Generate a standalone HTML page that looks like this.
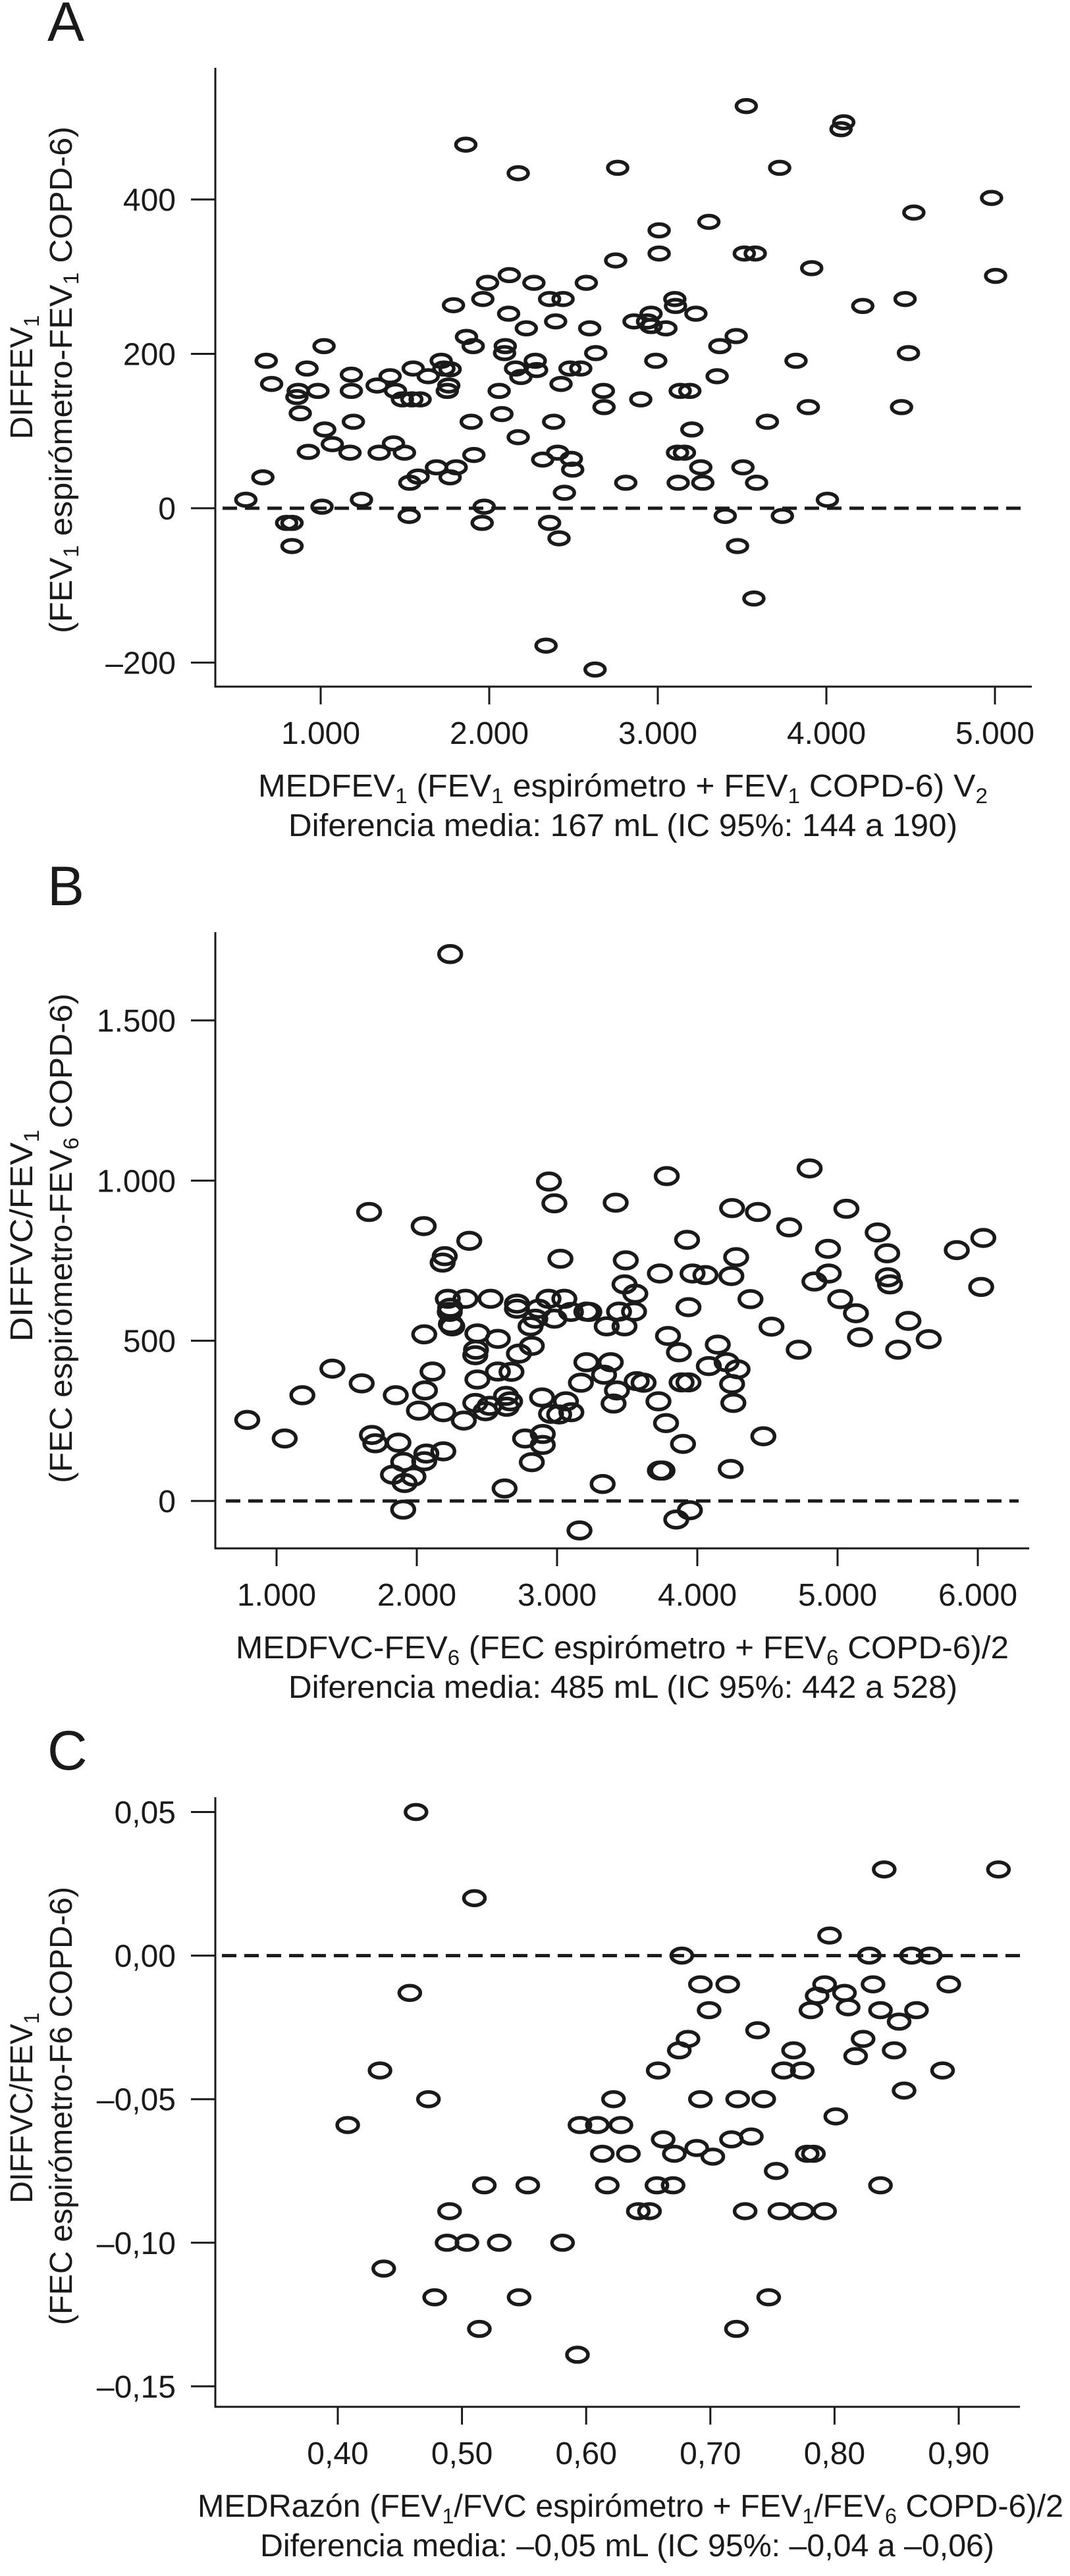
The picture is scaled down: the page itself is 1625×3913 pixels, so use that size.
<!DOCTYPE html>
<html><head><meta charset="utf-8"><style>
html,body{margin:0;padding:0;background:#fff}
svg{display:block}
text{font-family:"Liberation Sans",Arial,sans-serif;fill:#1a1a1a}
</style></head><body>
<svg id="fig" width="1625" height="3913" viewBox="0 0 1625 3913" xmlns="http://www.w3.org/2000/svg">
<g id="panelA">
<text x="72" y="62" font-size="84">A</text>
<text x="392" y="1210" font-size="48" textLength="1108" lengthAdjust="spacingAndGlyphs">MEDFEV<tspan font-size="32" dy="10">1</tspan><tspan dy="-10"> (FEV</tspan><tspan font-size="32" dy="10">1</tspan><tspan dy="-10"> espirómetro + FEV</tspan><tspan font-size="32" dy="10">1</tspan><tspan dy="-10"> COPD-6) V</tspan><tspan font-size="32" dy="10">2</tspan></text>
<text x="438" y="1270" font-size="48" textLength="1016" lengthAdjust="spacingAndGlyphs">Diferencia media: 167 mL (IC 95%: 144 a 190)</text>
<text transform="translate(49,573) rotate(-90)" text-anchor="middle" font-size="48">DIFFEV<tspan font-size="32" dy="10">1</tspan></text>
<text transform="translate(109,577) rotate(-90)" text-anchor="middle" font-size="48" textLength="770" lengthAdjust="spacingAndGlyphs">(FEV<tspan font-size="32" dy="10">1</tspan><tspan dy="-10"> espirómetro-FEV</tspan><tspan font-size="32" dy="10">1</tspan><tspan dy="-10"> COPD-6)</tspan></text>
</g>
<g id="panelB">
<text x="72" y="1375" font-size="84">B</text>
<text x="358" y="2519" font-size="48" textLength="1174" lengthAdjust="spacingAndGlyphs">MEDFVC-FEV<tspan font-size="32" dy="10">6</tspan><tspan dy="-10"> (FEC espirómetro + FEV</tspan><tspan font-size="32" dy="10">6</tspan><tspan dy="-10"> COPD-6)/2</tspan></text>
<text x="438" y="2579" font-size="48" textLength="1016" lengthAdjust="spacingAndGlyphs">Diferencia media: 485 mL (IC 95%: 442 a 528)</text>
<text transform="translate(49,1877) rotate(-90)" text-anchor="middle" font-size="48" textLength="322" lengthAdjust="spacingAndGlyphs">DIFFVC/FEV<tspan font-size="32" dy="10">1</tspan></text>
<text transform="translate(109,1881) rotate(-90)" text-anchor="middle" font-size="48" textLength="744" lengthAdjust="spacingAndGlyphs">(FEC espirómetro-FEV<tspan font-size="32" dy="10">6</tspan><tspan dy="-10"> COPD-6)</tspan></text>
</g>
<g id="panelC">
<text x="72" y="2688" font-size="84">C</text>
<text x="300" y="3823" font-size="48" textLength="1315" lengthAdjust="spacingAndGlyphs">MEDRazón (FEV<tspan font-size="32" dy="10">1</tspan><tspan dy="-10">/FVC espirómetro + FEV</tspan><tspan font-size="32" dy="10">1</tspan><tspan dy="-10">/FEV</tspan><tspan font-size="32" dy="10">6</tspan><tspan dy="-10"> COPD-6)/2</tspan></text>
<text x="395" y="3883" font-size="48" textLength="1115" lengthAdjust="spacingAndGlyphs">Diferencia media: –0,05 mL (IC 95%: –0,04 a –0,06)</text>
<text transform="translate(49,3202) rotate(-90)" text-anchor="middle" font-size="48" textLength="290" lengthAdjust="spacingAndGlyphs">DIFFVC/FEV<tspan font-size="32" dy="10">1</tspan></text>
<text transform="translate(109,3199) rotate(-90)" text-anchor="middle" font-size="48" textLength="666" lengthAdjust="spacingAndGlyphs">(FEC espirómetro-F6 COPD-6)</text>
</g>
</svg>
<script>
// ---- Panel A data ----
const aX = [556,657,677,709,798,830,830,859,879,867,919,927,984,1008,1024,1020,1069,1182,1182,1194,1174,1242,1335,1347,1412,1432,1444,1485,1541,1497,1525,1529,1578,1549,1590,1638,1687,1715,1731,1768,1751,1760,1768,1804,1788,1865,1861,1905,1893,1909,1962,1990,1970,1958,2059,2075,2095,2091,2119,2115,2156,2172,2172,2188,2220,2265,2273,2281,2317,2358,2438,2358,2382,2394,2406,2414,2337,2426,2446,2479,2487,2495,2543,2576,2596,2632,2628,2677,2681,2750,2762,2810,2859,2939,2899,2960,2960,2988,3008,3008,3048,3101,3105,3117,3158,3121,3133,3190,3202,3226,3255,3267,3303,3352,3368,3400,3465,3473,3505,3525,3513,3578,3570,3586,3650,3723,3739,3820,3893,3913,4006,4087,4103,4216,4446,4467,4487,4519,4980,5004];
const aY = [11,40,191,161,-19,-19,-49,144,123,152,181,73,152,2,102,210,83,173,152,112,72,11,159,72,171,84,152,141,141,72,-10,33,41,181,141,171,53,191,181,180,152,159,40,53,263,222,471,210,112,69,271,292,2,-19,152,122,210,201,302,252,181,434,92,170,233,292,191,179,63,271,271,-19,112,242,72,-39,-178,161,20,181,64,50,181,292,233,201,-209,152,131,321,441,33,242,242,141,252,236,191,330,360,233,271,262,72,72,33,152,152,102,252,53,33,371,171,210,-10,223,-49,53,521,330,330,-117,33,112,441,-10,191,131,311,11,491,500,262,131,271,201,383,402,301];
const aXTicks = [1000,2000,3000,4000,5000];
const aXTickLabels = ["1.000","2.000","3.000","4.000","5.000"];
const aYTicks = [400,200,0,-200];
const aYTickLabels = ["400","200","0","–200"];

// ---- Panel B data ----
const bX = [791,1058,1184,1398,1607,1660,1680,1704,1850,1869,1830,1903,1913,1903,1976,2015,2049,2053,2058,2068,2053,2112,2189,2189,2184,2199,2221,2238,2243,2238,2347,2335,2374,2432,2432,2422,2417,2417,2490,2519,2578,2526,2578,2675,2641,2665,2636,2626,2728,2714,2714,2772,2811,2820,2820,2845,2869,2898,2898,2893,2939,2942,2981,2981,2957,3015,3024,3052,3063,3102,3209,3170,3209,3325,3160,3335,3354,3383,3403,3418,3427,3442,3481,3481,3490,3558,3549,3568,3617,3723,3733,3777,3791,3782,3733,3752,3869,3888,3937,3898,3850,3947,3927,3937,3966,4058,4082,4146,4209,4243,4248,4257,4248,4277,4287,4238,4379,4432,4471,4529,4655,4723,4801,4835,4932,4937,5019,5063,5131,5160,5286,5354,5359,5374,5432,5505,5650,5850,6024,6039,2235,2253,3099,3230];
const bY = [253,195,330,413,367,902,206,180,330,182,82,122,56,-27,76,282,858,520,345,148,124,404,155,277,744,764,631,603,552,1707,631,251,812,379,523,472,455,306,280,297,506,631,404,403,294,311,328,39,460,616,600,195,545,121,484,569,600,209,175,323,631,997,929,569,272,270,756,631,311,277,591,369,433,53,-92,394,545,433,304,931,345,591,545,676,751,647,591,374,369,311,710,243,515,1014,95,95,464,370,370,178,-58,-29,815,605,710,705,421,488,433,702,914,306,365,761,411,100,630,902,202,544,854,472,1038,685,787,710,630,912,586,511,838,773,698,676,472,562,505,783,668,821,590,545,590,590];
const bXTicks = [1000,2000,3000,4000,5000,6000];
const bXTickLabels = ["1.000","2.000","3.000","4.000","5.000","6.000"];
const bYTicks = [1500,1000,500,0];
const bYTickLabels = ["1.500","1.000","500","0"];

// ---- Panel C data ----
const cX = [0.408,0.434,0.437,0.458,0.463,0.473,0.478,0.490,0.488,0.504,0.510,0.514,0.518,0.530,0.546,0.553,0.581,0.593,0.595,0.609,0.628,0.613,0.617,0.622,0.634,0.642,0.651,0.658,0.662,0.657,0.670,0.671,0.677,0.675,0.682,0.689,0.692,0.692,0.699,0.702,0.714,0.717,0.721,0.722,0.728,0.733,0.738,0.743,0.747,0.753,0.756,0.759,0.774,0.767,0.774,0.778,0.783,0.781,0.786,0.792,0.792,0.796,0.801,0.808,0.811,0.817,0.823,0.828,0.831,0.837,0.837,0.840,0.848,0.852,0.856,0.862,0.866,0.877,0.887,0.892,0.932];
const cY = [-0.059,-0.040,-0.109,-0.013,0.050,-0.050,-0.119,-0.089,-0.100,-0.100,0.020,-0.130,-0.080,-0.100,-0.119,-0.080,-0.100,-0.139,-0.059,-0.059,-0.059,-0.069,-0.080,-0.050,-0.069,-0.089,-0.089,-0.040,-0.064,-0.080,-0.080,-0.069,0,-0.033,-0.029,-0.067,-0.050,-0.010,-0.019,-0.070,-0.010,-0.064,-0.130,-0.050,-0.089,-0.063,-0.026,-0.050,-0.119,-0.075,-0.089,-0.040,-0.040,-0.033,-0.089,-0.069,-0.069,-0.019,-0.014,-0.010,-0.089,0.007,-0.056,-0.013,-0.018,-0.035,-0.029,0,-0.010,-0.019,-0.080,0.030,-0.033,-0.023,-0.047,0,-0.019,0,-0.040,-0.010,0.030];
const cXTicks = [0.40,0.50,0.60,0.70,0.80,0.90];
const cXTickLabels = ["0,40","0,50","0,60","0,70","0,80","0,90"];
const cYTicks = [0.05,0,-0.05,-0.10,-0.15];
const cYTickLabels = ["0,05","0,00","–0,05","–0,10","–0,15"];

const NS = "http://www.w3.org/2000/svg";
function mk(tag, attrs, parent){
  const e = document.createElementNS(NS, tag);
  for (const k in attrs) e.setAttribute(k, attrs[k]);
  parent.appendChild(e);
  return e;
}
function makeScale(d0, d1, r0, r1){ return v => r0 + (v - d0) * (r1 - r0) / (d1 - d0); }

function drawPanel(cfg){
  const g = document.getElementById(cfg.id);
  const sx = makeScale(cfg.xd[0], cfg.xd[1], cfg.xr[0], cfg.xr[1]);
  const sy = makeScale(cfg.yd[0], cfg.yd[1], cfg.yr[0], cfg.yr[1]);
  const axisX = 327;
  const yAxis = mk('line', {x1:axisX, y1:cfg.top, x2:axisX, y2:cfg.bottom+1.5, stroke:'#1a1a1a','stroke-width':3}, g);
  
  
  const xAxis = mk('line', {x1:axisX-1.5, y1:cfg.bottom, x2:cfg.right, y2:cfg.bottom, stroke:'#1a1a1a','stroke-width':3}, g);
  
  
  cfg.yTicks.forEach((t, i) => {
    const y = sy(t);
    const tk = mk('line', {x1:axisX-37, y1:y, x2:axisX, y2:y, stroke:'#1a1a1a','stroke-width':3}, g);
    
    
    const tl = mk('text', {x:axisX-60, y:y+17, 'font-size':48, 'text-anchor':'end'}, g);
    tl.textContent = cfg.yLabels[i];
    
    
  });
  cfg.xTicks.forEach((t, i) => {
    const x = sx(t);
    const tk = mk('line', {x1:x, y1:cfg.bottom, x2:x, y2:cfg.bottom+27, stroke:'#1a1a1a','stroke-width':3}, g);
    
    
    const tl = mk('text', {x:x, y:cfg.bottom+87, 'font-size':48, 'text-anchor':'middle'}, g);
    tl.textContent = cfg.xLabels[i];
    
    
  });
  const zy = sy(0);
  const dl = mk('line', {x1:cfg.dash[0], y1:zy, x2:cfg.dash[1], y2:zy, stroke:'#1a1a1a','stroke-width':5,'stroke-dasharray':'22 12'}, g);
  
  
  for (let i = 0; i < cfg.xs.length; i++){
    const p = mk('ellipse', {cx:sx(cfg.xs[i]), cy:sy(cfg.ys[i]), rx:cfg.rx, ry:cfg.ry, fill:'none', stroke:'#1a1a1a','stroke-width':5.5}, g);
    
    
  }
}

drawPanel({id:'panelA', xs:aX, ys:aY, xd:[1000,5000], xr:[487,1511], yd:[0,400], yr:[772,303],
  top:103, bottom:1043, right:1567, dash:[338,1555], rx:15, ry:9.5,
  xTicks:aXTicks, xLabels:aXTickLabels, yTicks:aYTicks, yLabels:aYTickLabels});
drawPanel({id:'panelB', xs:bX, ys:bY, xd:[1000,6000], xr:[420,1485], yd:[0,1500], yr:[2280,1550],
  top:1416, bottom:2352, right:1563, dash:[343,1547], rx:17, ry:12.5,
  xTicks:bXTicks, xLabels:bXTickLabels, yTicks:bYTicks, yLabels:bYTickLabels});
drawPanel({id:'panelC', xs:cX, ys:cY, xd:[0.40,0.90], xr:[513,1456], yd:[0,0.05], yr:[2970.6,2752.5],
  top:2730, bottom:3656, right:1549, dash:[337,1549], rx:16, ry:11,
  xTicks:cXTicks, xLabels:cXTickLabels, yTicks:cYTicks, yLabels:cYTickLabels});
</script>
</body></html>
